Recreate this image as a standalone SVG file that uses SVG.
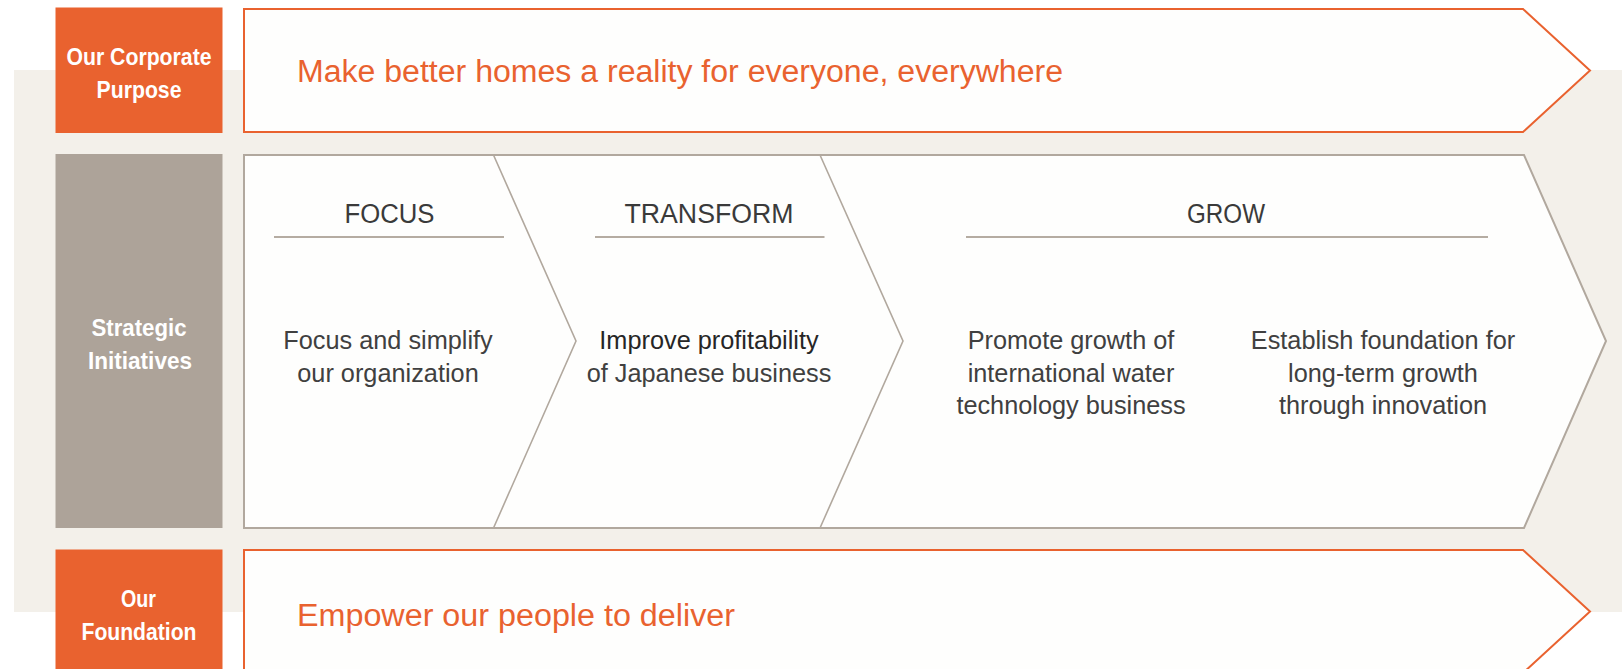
<svg xmlns="http://www.w3.org/2000/svg" width="1622" height="669" viewBox="0 0 1622 669">
<style>
.bg{fill:#f3f0ea}
.obox{fill:#e9622f}
.gbox{fill:#ada399}
.oarrow{fill:#fefefd;stroke:#e9622f;stroke-width:2}
.panel{fill:#fefefd;stroke:#b1a89e;stroke-width:2}
.div{fill:none;stroke:#b1a89e;stroke-width:1.6}
.rule{stroke:#b5aca2;stroke-width:2}
.lbl{font-family:"Liberation Sans Narrow","Liberation Sans",Arial,sans-serif;font-weight:bold;font-size:24px;fill:#ffffff;text-anchor:middle}
.big{font-family:"Liberation Sans",Arial,sans-serif;font-size:31px;fill:#e9622f}
.head{font-family:"Liberation Sans",Arial,sans-serif;font-size:27px;fill:#3a3a3a;text-anchor:middle}
.body{font-family:"Liberation Sans",Arial,sans-serif;font-size:25.3px;fill:#404040;text-anchor:middle}
.dark{fill:#262626}
</style>
<rect class="bg" x="14" y="70" width="1608" height="542"/>

<g id="purpose-label">
<rect class="obox" x="55.5" y="7.5" width="167" height="125.5"/>
<text class="lbl" x="139" y="65" textLength="145" lengthAdjust="spacingAndGlyphs">Our Corporate</text>
<text class="lbl" x="139" y="98" textLength="85" lengthAdjust="spacingAndGlyphs">Purpose</text>
</g>
<g id="purpose">
<path class="oarrow" d="M244,9 L1523,9 L1590,70.5 L1523,132 L244,132 Z"/>
<text class="big" x="297" y="82" textLength="766" lengthAdjust="spacingAndGlyphs">Make better homes a reality for everyone, everywhere</text>
</g>

<g id="strategic-label">
<rect class="gbox" x="55.5" y="154" width="167" height="374"/>
<text class="lbl" x="139" y="336" textLength="95" lengthAdjust="spacingAndGlyphs">Strategic</text>
<text class="lbl" x="140" y="369" textLength="104" lengthAdjust="spacingAndGlyphs">Initiatives</text>
</g>

<g id="strategic-panel">
<path class="panel" d="M244,155 L1524,155 L1606,341 L1524,528 L244,528 Z"/>
<polyline class="div" points="493.5,155 576,341 493.5,528"/>
<polyline class="div" points="820,155 903,341 820,528"/>
</g>

<g id="focus">
<text class="head" x="389.5" y="223" textLength="90" lengthAdjust="spacingAndGlyphs">FOCUS</text>
<line class="rule" x1="274" y1="237" x2="504" y2="237"/>
<text class="body" x="388" y="349">Focus and simplify</text>
<text class="body" x="388" y="381.5">our organization</text>
</g>

<g id="transform">
<text class="head" x="709" y="223" textLength="169" lengthAdjust="spacingAndGlyphs">TRANSFORM</text>
<line class="rule" x1="595" y1="237" x2="824.5" y2="237"/>
<text class="body dark" x="709" y="349">Improve profitability</text>
<text class="body" x="709" y="381.5">of Japanese business</text>
</g>

<g id="grow">
<text class="head" x="1226" y="223" textLength="78" lengthAdjust="spacingAndGlyphs">GROW</text>
<line class="rule" x1="966" y1="237" x2="1488" y2="237"/>
<text class="body" x="1071" y="349">Promote growth of</text>
<text class="body" x="1071" y="381.5">international water</text>
<text class="body" x="1071" y="414">technology business</text>
<text class="body" x="1383" y="349">Establish foundation for</text>
<text class="body" x="1383" y="381.5">long-term growth</text>
<text class="body" x="1383" y="414">through innovation</text>
</g>

<g id="foundation-label">
<rect class="obox" x="55.5" y="549.5" width="167" height="130"/>
<text class="lbl" x="138.5" y="606.5" textLength="35" lengthAdjust="spacingAndGlyphs">Our</text>
<text class="lbl" x="139" y="639.5" textLength="115" lengthAdjust="spacingAndGlyphs">Foundation</text>
</g>
<g id="foundation">
<path class="oarrow" d="M244,550 L1523,550 L1590,611.5 L1523,673 L244,673 Z"/>
<text class="big" x="297" y="626" textLength="438" lengthAdjust="spacingAndGlyphs">Empower our people to deliver</text>
</g>

<g id="connectors"></g>
</svg>
